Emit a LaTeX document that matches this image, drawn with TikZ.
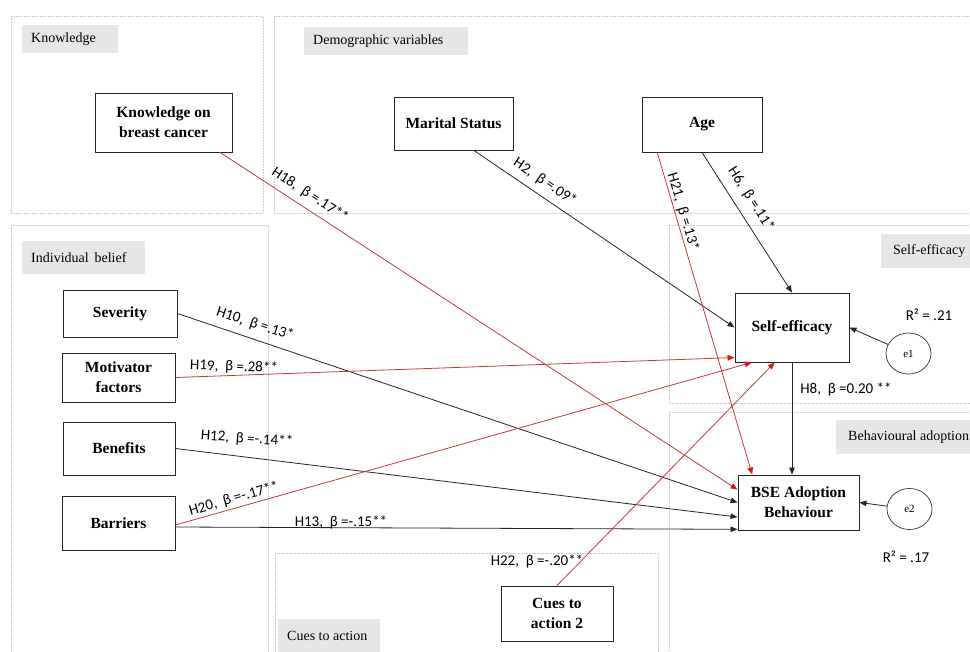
\documentclass[tikz,border=0pt]{standalone}
\usepackage{fontspec}
\setmainfont{Liberation Serif}
\newfontfamily\lblfont{Carlito}
\usetikzlibrary{arrows.meta,calc,shapes.geometric}
\definecolor{redline}{RGB}{196,58,58}
\definecolor{redtip}{RGB}{225,20,20}
\definecolor{tabgray}{RGB}{230,230,230}
\definecolor{grpline}{RGB}{200,200,200}
\begin{document}
\begin{tikzpicture}[x=1pt,y=-1pt,
  grp/.style={draw=grpline, densely dotted, line width=0.6pt},
  tab/.style={fill=tabgray, draw=none},
  tabtext/.style={anchor=west, font=\fontsize{14}{16}\selectfont, inner sep=0pt},
  var/.style={draw=black!85, line width=0.9pt, fill=white, font=\bfseries\fontsize{15.5}{20}\selectfont, align=center, inner sep=0pt},
  err/.style={ellipse, draw=black!80, line width=0.7pt, fill=white, minimum width=45pt, minimum height=41pt, inner sep=0pt, font=\fontsize{11}{12}\selectfont},
  blk/.style={draw=black!85, line width=0.8pt, -{Triangle[length=7pt,width=5.5pt]}},
  redarrow/.style={draw=redline, line width=0.8pt, -{Triangle[length=7pt,width=5.5pt,color=redtip]}},
  lbl/.style={font=\lblfont\fontsize{15}{17}\selectfont, inner sep=0pt, anchor=center}
]
\useasboundingbox (0,0) rectangle (970,652);
\fill[white] (0,0) rectangle (970,652);

% group frames
\draw[grp] (11,16) rectangle (263,213);
\draw[grp] (274,16) rectangle (980,213);
\draw[grp] (11,225) rectangle (268,670);
\draw[grp] (669,225) rectangle (980,403);
\draw[grp] (669,412) rectangle (980,670);
\draw[grp] (275,553) rectangle (658,670);

% group tabs
\fill[tab] (22,25) rectangle (118,53);
\node[tabtext] (tknow) at (31,39) {Knowledge};
\fill[tab] (304,27) rectangle (468,55);
\node[tabtext] (tdemo) at (313,41) {Demographic variables};
\fill[tab] (22,241) rectangle (145,274);
\node[tabtext] (tind) at (31,257.5) {Individual\ \,belief};
\fill[tab] (881,234) rectangle (975,268);
\node[tabtext] (tse) at (893,251) {Self-efficacy};
\fill[tab] (836,420) rectangle (975,454);
\node[tabtext] (tba) at (848,437) {Behavioural adoption};
\fill[tab] (278,619) rectangle (380,660);
\node[tabtext] (tcue) at (287,636) {Cues to action};

% variables
\node[var, minimum width=137pt, minimum height=59pt] (know) at (163.5,122.5) {Knowledge on\\breast cancer};
\node[var, minimum width=119pt, minimum height=53pt] (mar) at (453.5,123.5) {Marital Status};
\node[var, minimum width=120pt, minimum height=55pt] (age) at (702,124.5) {Age};
\node[var, minimum width=114pt, minimum height=69pt] (se) at (792,327.5) {Self-efficacy};
\node[var, minimum width=121pt, minimum height=55pt] (bse) at (798.5,502.5) {BSE Adoption\\Behaviour};
\node[var, minimum width=114pt, minimum height=47pt] (sev) at (120,313.5) {Severity};
\node[var, minimum width=113pt, minimum height=49pt] (mot) at (118.5,377.5) {Motivator\\factors};
\node[var, minimum width=112pt, minimum height=53pt] (ben) at (119,448.5) {Benefits};
\node[var, minimum width=113pt, minimum height=54pt] (bar) at (118.5,523) {Barriers};
\node[var, minimum width=112pt, minimum height=55pt] (cue) at (557,613.5) {Cues to\\action 2};
\node[err] (e1) at (908.5,353.5) {e1};
\node[err] (e2) at (909.5,509) {e2};

% connectors
\draw[redarrow] ($(know.south west)!0.91!(know.south east)$) -- ($(bse.north west)!0.27!(bse.south west)$);
\draw[blk] ($(mar.south west)!0.67!(mar.south east)$) -- (se.west);
\draw[redarrow] ($(age.south west)!0.13!(age.south east)$) -- ($(bse.north west)!0.12!(bse.north east)$);
\draw[blk] (age.south) -- (se.north);
\draw[blk] (sev.east) -- (bse.west);
\draw[redarrow] (mot.east) -- ($(se.north west)!0.93!(se.south west)$);
\draw[blk] (ben.east) -- ($(bse.north west)!0.76!(bse.south west)$);
\draw[redarrow] ([yshift=-2pt]bar.east) -- ($(se.south west)!0.15!(se.south east)$);
\draw[blk] ([yshift=-4pt]bar.east) -- ($(bse.north west)!0.98!(bse.south west)$);
\draw[redarrow] (cue.north) -- ($(se.south west)!0.35!(se.south east)$);
\draw[blk] (se.south) -- (se.south |- bse.north);
\draw[blk] (e1) -- (se.east);
\draw[blk] (e2) -- (bse.east);

% labels
\node[lbl, rotate=-33] (l18) at (310,195) {H18,\ \ β =.17**};
\node[lbl, rotate=-34] (l2) at (545,182) {H2,\ \ β =.09*};
\node[lbl, rotate=-73.5] (l21) at (683,212) {H21,\ \ β =.13*};
\node[lbl, rotate=-57] (l6) at (751,199) {H6,\ \ β =.11*};
\node[lbl, rotate=-18] (l10) at (255,324) {H10,\ \ β =.13*};
\node[lbl, rotate=-2] (l19) at (234,367) {H19,\ \ β =.28**};
\node[lbl, rotate=-4] (l12) at (247,439) {H12,\ \ β =-.14**};
\node[lbl, rotate=16] (l20) at (234,499) {H20,\ \ β =-.17**};
\node[lbl] (l13) at (341,522) {H13,\ \ β =-.15**};
\node[lbl] (l22) at (537,561) {H22,\ \ β =-.20**};
\node[lbl] (l8) at (846,389) {H8,\ \ β =0.20 **};
\node[lbl] (r1) at (929,315) {R² = .21};
\node[lbl] (r2) at (906,557) {R² = .17};
\end{tikzpicture}
\end{document}
